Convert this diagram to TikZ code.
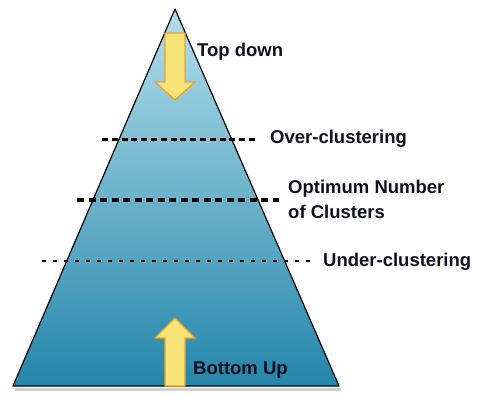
\documentclass[tikz,border=0pt]{standalone}
\usepackage{fontspec}
\setmainfont{Liberation Sans}
\definecolor{pyrtop}{RGB}{178,222,236}
\definecolor{pyrbot}{RGB}{36,134,170}
\definecolor{arrowfill}{RGB}{248,228,118}
\definecolor{arrowedge}{RGB}{238,162,44}
\definecolor{labelink}{RGB}{16,16,34}
\tikzset{
  label/.style={anchor=west, inner sep=0pt, text=labelink,
    font=\bfseries\fontsize{18.5}{25}\selectfont},
  blockarrow/.style={fill=arrowfill, draw=arrowedge, line width=1.3pt, line join=round}
}

\begin{document}
\begin{tikzpicture}[x=1pt, y=-1pt]
  \useasboundingbox (0,0) rectangle (477,397);

  % Draw the pyramid with its shadow
  \fill[black, opacity=0.18] (15,388) -- (341,388) -- (341,391) -- (15,391) -- cycle;
  \shade[top color=pyrtop, bottom color=pyrbot] (175,9) -- (339,386) -- (13,386) -- cycle;
  \draw[line width=1.2pt, line join=round] (175,9) -- (339,386) -- (13,386) -- cycle;

  % Draw the two block arrows
  \draw[blockarrow] (165,33) -- (185,33) -- (185,82) -- (195,82) -- (175,100)
    -- (155,82) -- (165,82) -- cycle;
  \draw[blockarrow] (165,386) -- (185,386) -- (185,338) -- (195,338) -- (175,318)
    -- (155,338) -- (165,338) -- cycle;

  % Fill in the labels
  \node[label] (topdown) at (197,52) {Top down};
  \node[label] (bottomup) at (193,370) {Bottom Up};
  \node[label] (over) at (270,139) {Over-clustering};
  \node[label, align=left] (optimum) at (288,199) {Optimum Number\\of Clusters};
  \node[label] (under) at (323,262) {Under-clustering};

  % Draw the dashed cuts
  \coordinate (overstart) at (102,139);
  \coordinate (overend) at (258,139);
  \coordinate (optstart) at (77,200);
  \coordinate (optend) at (279,200);
  \coordinate (understart) at (42,261);
  \coordinate (underend) at (313,261);
  \draw[line width=3pt, dash pattern=on 6pt off 3.8pt] (overstart) -- (overend);
  \draw[line width=3.3pt, dash pattern=on 7pt off 4.5pt] (optstart) -- (optend);
  \draw[line width=2.1pt, dash pattern=on 4pt off 7pt] (understart) -- (underend);
\end{tikzpicture}
\end{document}
